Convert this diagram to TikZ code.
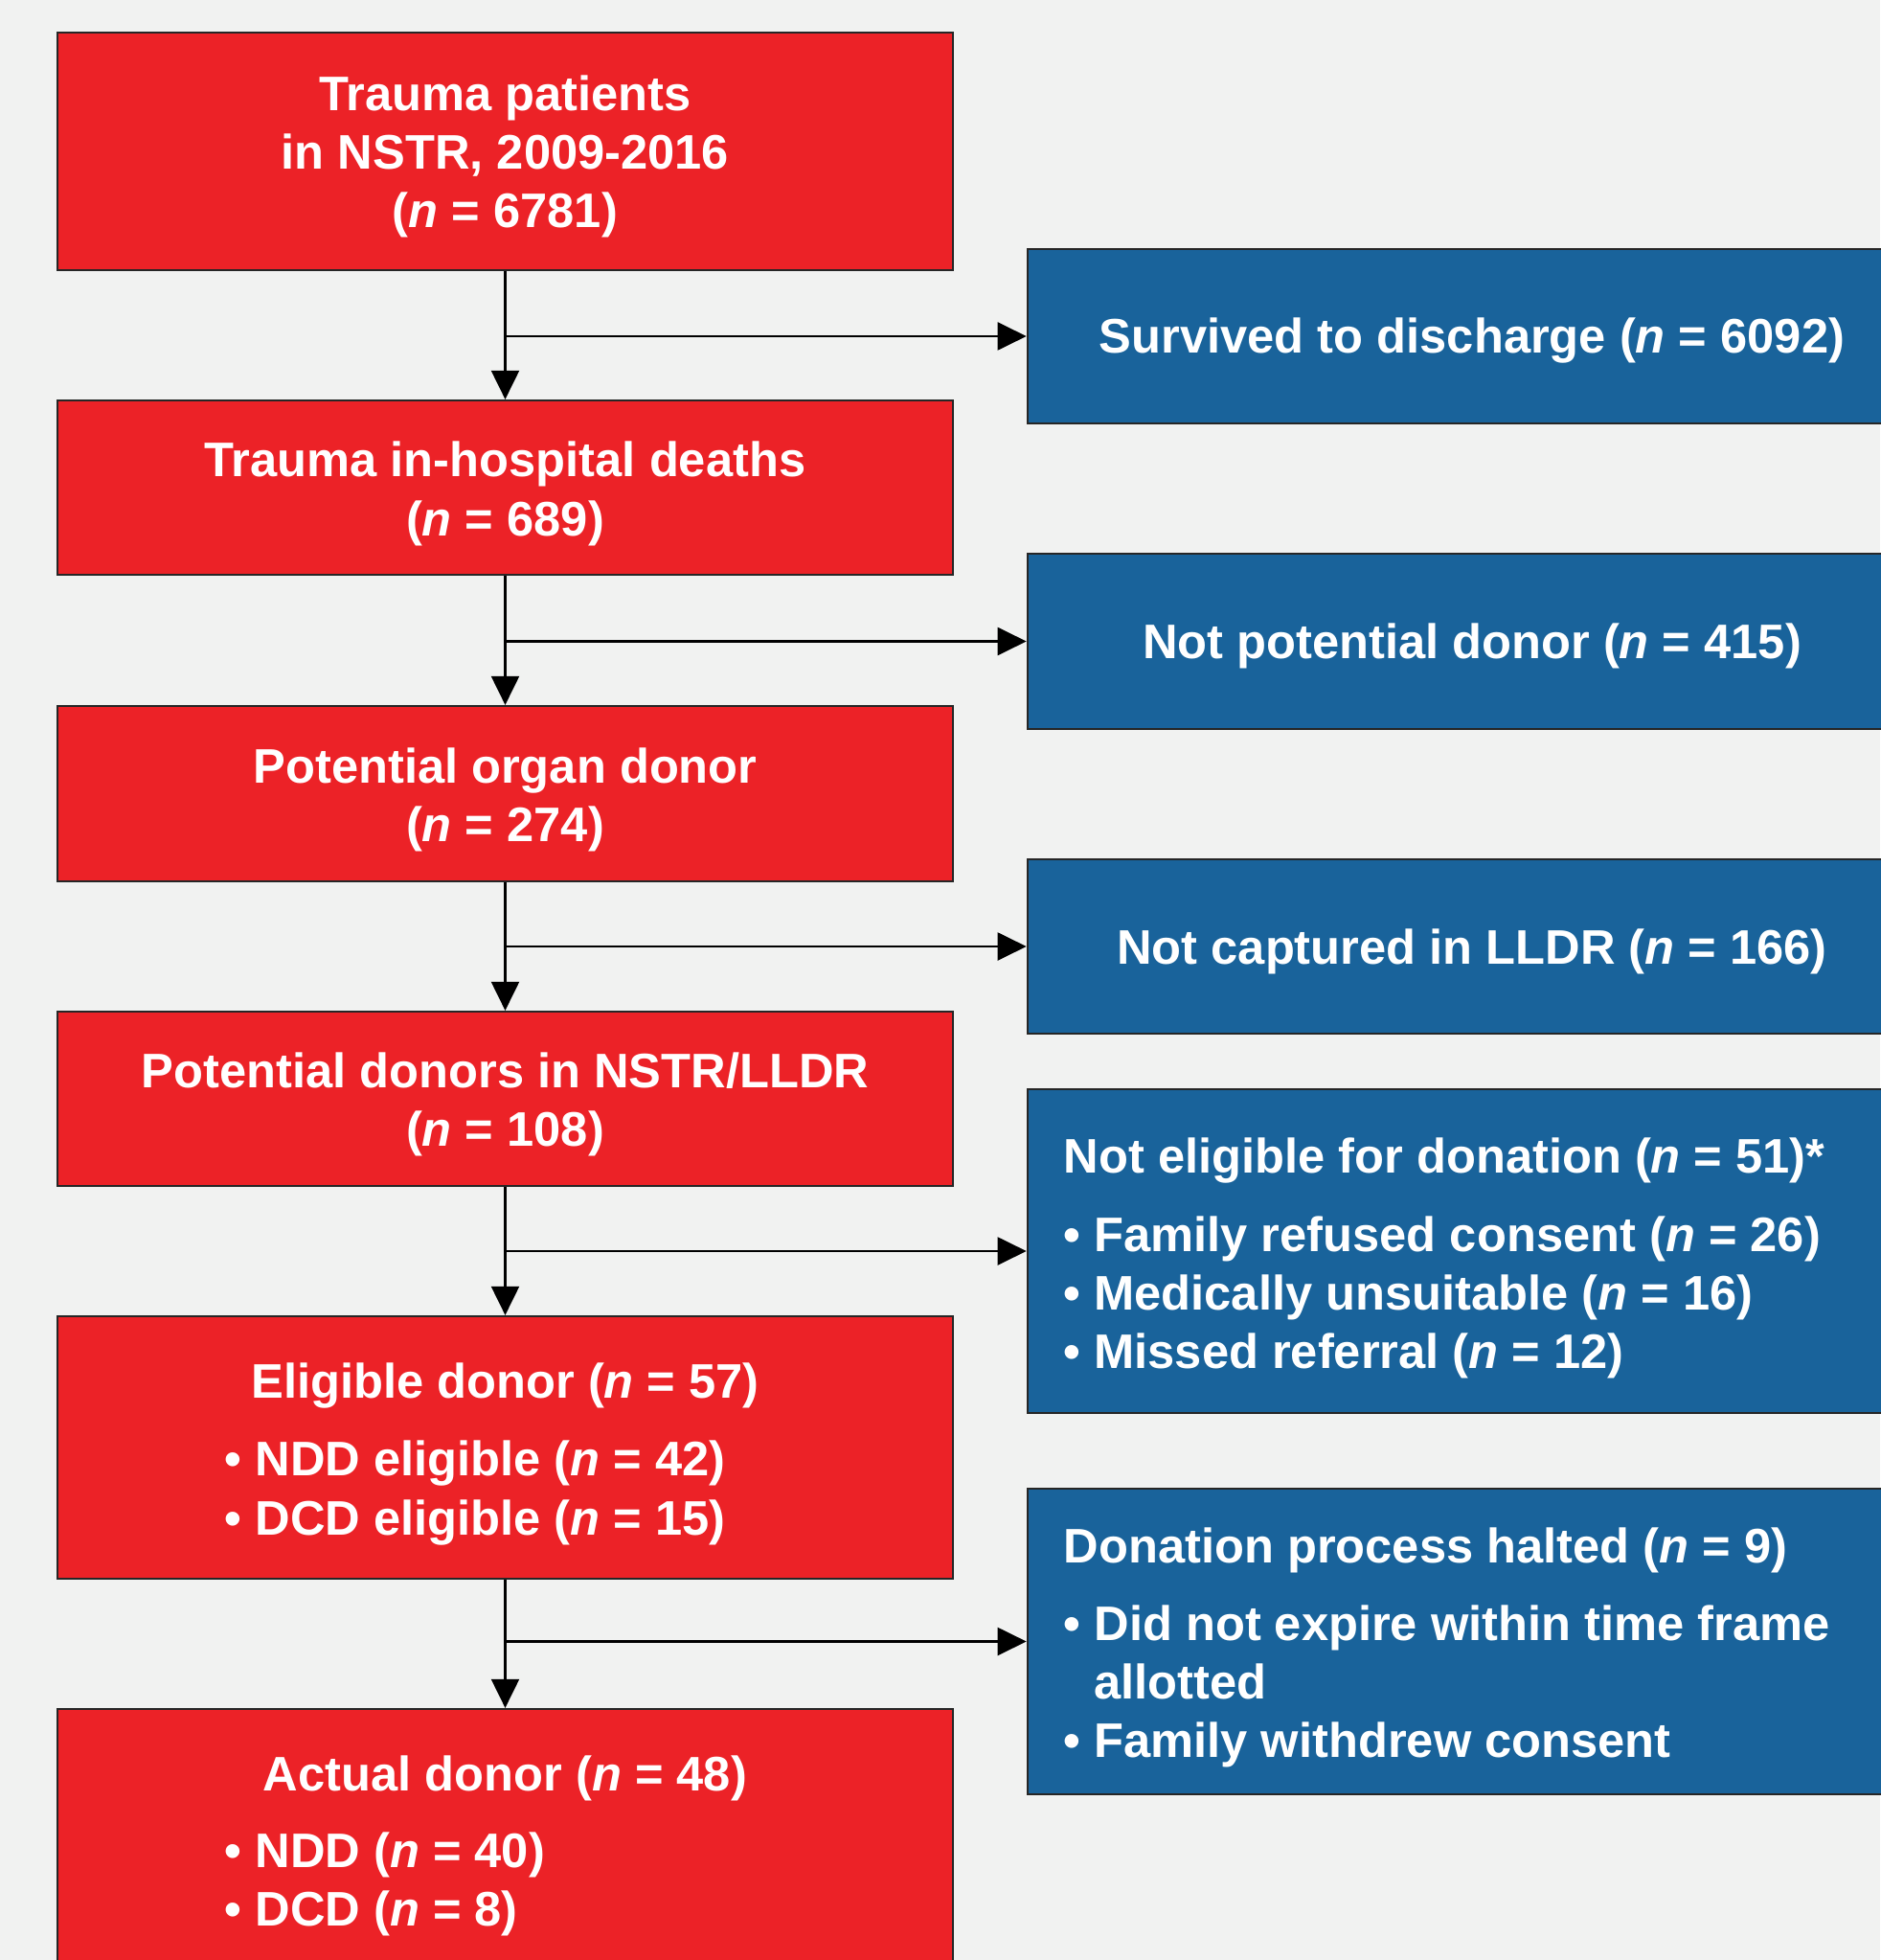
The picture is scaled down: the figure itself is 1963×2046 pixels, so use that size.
\documentclass[tikz,border=0pt]{standalone}
\usepackage{fontspec}
\setmainfont{Liberation Sans}
\usetikzlibrary{arrows.meta,positioning}
\definecolor{flowred}{RGB}{236,34,39}
\definecolor{flowblue}{RGB}{25,99,155}
\definecolor{flowbg}{RGB}{241,242,241}
\newcommand{\flowfont}{\fontsize{14.4}{17.4}\selectfont\bfseries}
\newcommand{\nn}{\textit{n}}
\tikzset{redbox/.style={draw=black!85, line width=0.6pt, fill=flowred, minimum width=9.35cm}}
\tikzset{bluebox/.style={draw=black!85, line width=0.6pt, fill=flowblue, minimum width=9.28cm}}
\tikzset{lbl/.style={text=white, font=\flowfont, inner sep=0pt, align=center}}
\tikzset{arr/.style={draw, line width=0.6pt, -{Triangle[length=0.3cm, width=0.29cm]}}}

\begin{document}
\begin{tikzpicture}[x=0.01cm, y=-0.01cm]
				\fill[flowbg] (0,0) rectangle (1963,2046);
				\useasboundingbox (0,0) rectangle (1963,2046);

				% main column
				\node[redbox, minimum height=2.48cm] (trauma) at (527.5,158) {};
				\node[redbox, minimum height=1.82cm] (deaths) at (527.5,509) {};
				\node[redbox, minimum height=1.83cm] (potential) at (527.5,828.5) {};
				\node[redbox, minimum height=1.82cm] (nstrlldr) at (527.5,1147) {};
				\node[redbox, minimum height=2.74cm] (eligible) at (527.5,1511) {};
				\node[redbox, minimum height=3.2cm] (actual) at (527.5,1944) {};

				\node[lbl] (traumaT) at (527.5,163.5) {Trauma patients\\in NSTR, 2009-2016\\(\nn{} = 6781)};
				\node[lbl] (deathsT) at (527.5,515.5) {Trauma in-hospital deaths\\(\nn{} = 689)};
				\node[lbl] (potentialT) at (527.5,834.5) {Potential organ donor\\(\nn{} = 274)};
				\node[lbl] (nstrlldrT) at (527.5,1153) {Potential donors in NSTR/LLDR\\(\nn{} = 108)};
				\node[lbl] (eligibleT) at (527.5,1447) {Eligible donor (\nn{} = 57)};
				\node[lbl, anchor=west, align=left] (eligibleL) at (234,1558.5) {• NDD eligible (\nn{} = 42)\\• DCD eligible (\nn{} = 15)};
				\node[lbl] (actualT) at (527.5,1856) {Actual donor (\nn{} = 48)};
				\node[lbl, anchor=west, align=left] (actualL) at (234,1967) {• NDD (\nn{} = 40)\\• DCD (\nn{} = 8)};

				% exclusions
				\node[bluebox, minimum height=1.82cm] (survived) at (1537,351) {};
				\node[bluebox, minimum height=1.83cm] (notpot) at (1537,669.5) {};
				\node[bluebox, minimum height=1.82cm] (notcap) at (1537,988) {};
				\node[bluebox, minimum height=3.38cm] (noteli) at (1537,1306) {};
				\node[bluebox, minimum height=3.19cm] (halted) at (1537,1713.5) {};

				\node[lbl] (survivedT) at (1537,356) {Survived to discharge (\nn{} = 6092)};
				\node[lbl] (notpotT) at (1537,674.5) {Not potential donor (\nn{} = 415)};
				\node[lbl] (notcapT) at (1537,993) {Not captured in LLDR (\nn{} = 166)};
				\node[lbl, anchor=west, align=left] (noteliL) at (1110,1313.5) {Not eligible for donation (\nn{} = 51)*\\[5.7pt]• Family refused consent (\nn{} = 26)\\• Medically unsuitable (\nn{} = 16)\\• Missed referral (\nn{} = 12)};
				\node[lbl, anchor=west, align=left] (haltedL) at (1110,1720) {Donation process halted (\nn{} = 9)\\[5.7pt]• Did not expire within time frame\\\phantom{•\ }allotted\\• Family withdrew consent};

				\draw[arr] (trauma) -- (deaths);
				\draw[arr] (deaths) -- (potential);
				\draw[arr] (potential) -- (nstrlldr);
				\draw[arr] (nstrlldr) -- (eligible);
				\draw[arr] (eligible) -- (actual);

				\draw[arr] (trauma.south |- survived.west) -- (survived.west);
				\draw[arr] (deaths.south |- notpot.west) -- (notpot.west);
				\draw[arr] (potential.south |- notcap.west) -- (notcap.west);
				\draw[arr] (nstrlldr.south |- noteli.west) -- (noteli.west);
				\draw[arr] (eligible.south |- halted.west) -- (halted.west);
			\end{tikzpicture}
\end{document}
